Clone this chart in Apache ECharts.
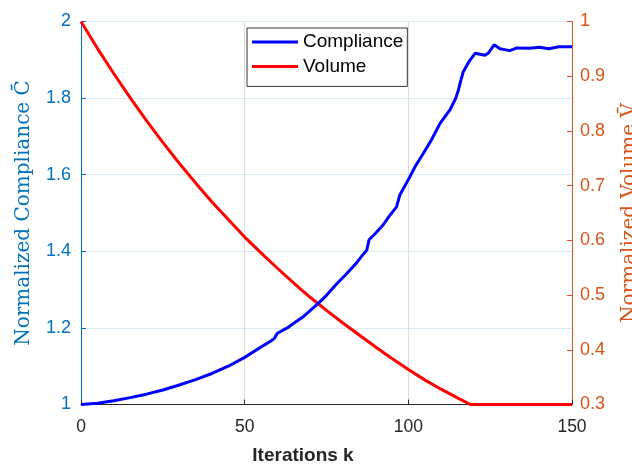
<!DOCTYPE html>
<html>
<head>
<meta charset="utf-8">
<script src="https://cdn.jsdelivr.net/npm/echarts@6/dist/echarts.min.js"></script>
<style>html,body{margin:0;padding:0;background:#fff;}#c{width:632px;height:466px;}</style>
</head>
<body>
<div id="c"></div>
<script>
// Data
const complianceK = [0,5,10,15,20,25,30,35,40,45,50,55,58,59,60,63,65,68,72.5,75,78,81,84,86,87.3,88,90,92.4,94,96.4,97.4,100.5,102,104.6,107,109.7,112.7,114.5,115.3,116,116.8,118.5,120.4,123.4,124.5,126.2,128,131,133.2,137,140,143,146,150];
const complianceVals = [1.000,1.003,1.010,1.018,1.027,1.038,1.051,1.065,1.081,1.100,1.123,1.150,1.166,1.172,1.186,1.200,1.212,1.230,1.264,1.285,1.314,1.340,1.368,1.390,1.403,1.430,1.447,1.470,1.490,1.516,1.547,1.595,1.620,1.656,1.690,1.734,1.769,1.800,1.821,1.845,1.869,1.895,1.917,1.912,1.918,1.939,1.929,1.924,1.931,1.930,1.933,1.929,1.934,1.934];
const volumeK = [0,5,10,15,20,25,30,35,40,45,50,55,60,65,70,75,80,85,90,95,100,105,110,115,119,150];
const volumeVals = [1.000,0.951,0.905,0.861,0.819,0.779,0.741,0.705,0.670,0.638,0.606,0.577,0.549,0.522,0.496,0.472,0.449,0.427,0.405,0.384,0.364,0.345,0.328,0.312,0.300,0.300];
const xTicks = {min:0, max:150, interval:50};
const leftTicks = {min:1, max:2, interval:0.2};
const rightTicks = {min:0.3, max:1, interval:0.1};

const blueAxis = '#0072BD', orangeAxis = '#D95319', dark = '#262626';
const chart = echarts.init(document.getElementById('c'), null, {renderer:'canvas'});
chart.setOption({
  animation:false,
  backgroundColor:'#fff',
  grid:{left:81, top:21.5, width:491, height:383, containLabel:false, outerBoundsMode:'none'},
  legend:{
    orient:'vertical', left:247, top:28,
    padding:[4,4,10,5], itemGap:4.4, itemWidth:46, itemHeight:3, icon:'rect',
    backgroundColor:'#fff', borderColor:'#333', borderWidth:1, borderRadius:0,
    textStyle:{fontFamily:'Liberation Sans, Arial', fontSize:19, color:'#000', lineHeight:20},
    data:['Compliance','Volume']
  },
  xAxis:{
    type:'value', min:xTicks.min, max:xTicks.max, interval:xTicks.interval,
    name:'Iterations k', nameLocation:'middle', nameGap:42,
    nameTextStyle:{fontFamily:'Liberation Sans, Arial', fontSize:19, fontWeight:'bold', color:dark, padding:[0,47,0,0]},
    axisLine:{show:true, lineStyle:{color:dark, width:1}},
    axisTick:{show:true, inside:true, length:5, lineStyle:{color:dark}},
    axisLabel:{fontFamily:'Liberation Sans, Arial', fontSize:17.5, color:dark, margin:14},
    splitLine:{show:true, lineStyle:{color:'#dcdcdc', width:1}}
  },
  yAxis:[{
    type:'value', position:'left', min:leftTicks.min, max:leftTicks.max, interval:leftTicks.interval,
    name:'Normalized Compliance C\u0304', nameLocation:'middle', nameGap:47, nameRotate:90,
    nameTextStyle:{fontFamily:'DejaVu Serif', fontSize:20, color:blueAxis},
    axisLine:{show:true, lineStyle:{color:blueAxis, width:1}},
    axisTick:{show:true, inside:true, length:5, lineStyle:{color:blueAxis}},
    axisLabel:{fontFamily:'Liberation Sans, Arial', fontSize:18, color:blueAxis, margin:10},
    splitLine:{show:true, lineStyle:{color:'#d9eaf5', width:1}}
  },{
    type:'value', position:'right', min:rightTicks.min, max:rightTicks.max, interval:rightTicks.interval,
    name:'Normalized Volume V\u0304', nameLocation:'middle', nameGap:48, nameRotate:90,
    nameTextStyle:{fontFamily:'DejaVu Serif', fontSize:20, color:orangeAxis},
    axisLine:{show:true, lineStyle:{color:orangeAxis, width:1}},
    axisTick:{show:true, inside:true, length:5, lineStyle:{color:orangeAxis}},
    axisLabel:{fontFamily:'Liberation Sans, Arial', fontSize:18, color:orangeAxis, margin:8},
    splitLine:{show:false}
  }],
  series:[{
    name:'Compliance', type:'line', yAxisIndex:0, symbol:'none', smooth:false,
    lineStyle:{color:'#0000FF', width:3}, itemStyle:{color:'#0000FF'},
    data:complianceK.map((k,i)=>[k, complianceVals[i]]), z:3
  },{
    name:'Volume', type:'line', yAxisIndex:1, symbol:'none', smooth:false,
    lineStyle:{color:'#FF0000', width:3}, itemStyle:{color:'#FF0000'},
    data:volumeK.map((k,i)=>[k, volumeVals[i]]), z:2
  }]
});
</script>
</body>
</html>
